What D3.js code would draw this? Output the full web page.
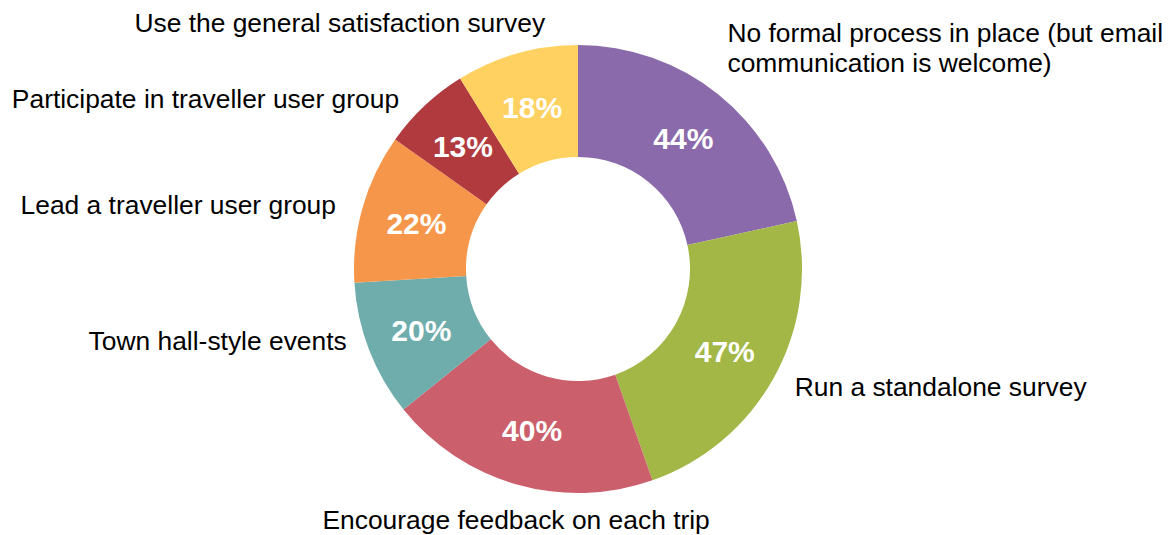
<!DOCTYPE html>
<html>
<head>
<meta charset="utf-8">
<script src="https://cdn.jsdelivr.net/npm/d3@7/dist/d3.min.js"></script>
<style>
  html, body { margin: 0; padding: 0; background: #ffffff; }
  svg { display: block; }
</style>
</head>
<body>
<script>
// ---- Data ----
const categories = [
  "No formal process in place (but email\ncommunication is welcome)",
  "Run a standalone survey",
  "Encourage feedback on each trip",
  "Town hall-style events",
  "Lead a traveller user group",
  "Participate in traveller user group",
  "Use the general satisfaction survey"
];
const values = [44, 47, 40, 20, 22, 13, 18];
const valueLabels = ["44%", "47%", "40%", "20%", "22%", "13%", "18%"];

// ---- Styles ----
const colors = ["#8B6AAC", "#A2B745", "#CB5F6C", "#6FACAC", "#F6964A", "#B03A3E", "#FFD160"];
// label placement relative to the arc point (anchor + nudge)
const labelLayout = [
  { anchor: "start",  dx: -6,  dy: -34 },
  { anchor: "start",  dx: 0,   dy: 6 },
  { anchor: "middle", dx: 6,   dy: 21.5 },
  { anchor: "end",    dx: 0,   dy: -8.5 },
  { anchor: "end",    dx: -3.5,dy: 13 },
  { anchor: "end",    dx: -9,  dy: 20 },
  { anchor: "end",    dx: 35,  dy: 1.5 }
];

const W = 1175, H = 535;
const cx = 578, cy = 269;
const rOuter = 224, rInner = 112, rLabel = 248;
const lineH = 30;

const svg = d3.select("body").append("svg")
  .attr("width", W).attr("height", H);

const g = svg.append("g").attr("transform", `translate(${cx},${cy})`);

const pie = d3.pie().sort(null).value(d => d)(values);
const arc = d3.arc().innerRadius(rInner).outerRadius(rOuter);
const labelArc = d3.arc().innerRadius(rLabel).outerRadius(rLabel);

g.selectAll("path.slice")
  .data(pie)
  .join("path")
  .attr("class", "slice")
  .attr("d", arc)
  .attr("fill", (d, i) => colors[i]);

// percentage labels
g.selectAll("text.pct")
  .data(pie)
  .join("text")
  .attr("class", "pct")
  .attr("transform", d => `translate(${arc.centroid(d)})`)
  .attr("text-anchor", "middle")
  .attr("dy", "0.36em")
  .attr("font-family", "Liberation Sans, Arial, sans-serif")
  .attr("font-weight", "bold")
  .attr("font-size", 30)
  .attr("fill", "#ffffff")
  .text((d, i) => valueLabels[i]);

// category labels
g.selectAll("text.cat")
  .data(pie)
  .join("text")
  .attr("class", "cat")
  .attr("font-family", "Liberation Sans, Arial, sans-serif")
  .attr("font-size", 26.4)
  .attr("fill", "#000000")
  .attr("text-anchor", (d, i) => labelLayout[i].anchor)
  .each(function (d, i) {
    const [px, py] = labelArc.centroid(d);
    const x = px + labelLayout[i].dx;
    const y = py + labelLayout[i].dy;
    const lines = categories[i].split("\n");
    const t = d3.select(this);
    lines.forEach((ln, k) => {
      t.append("tspan").attr("x", x).attr("y", y + k * lineH).text(ln);
    });
  });
</script>
</body>
</html>
